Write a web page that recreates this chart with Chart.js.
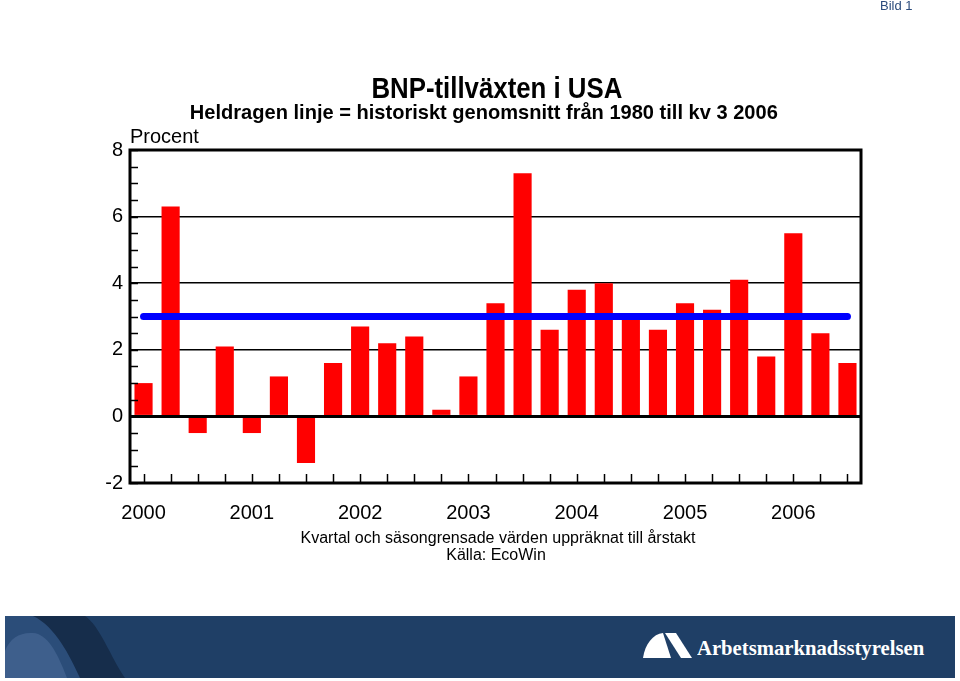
<!DOCTYPE html>
<html lang="sv">
<head>
<meta charset="utf-8">
<title>BNP-tillväxten i USA</title>
<script src="https://cdn.jsdelivr.net/npm/chart.js@4.4.1/dist/chart.umd.min.js"></script>
<style>
  body { margin: 0; background: #fff; font-family: "Liberation Sans", Arial, sans-serif; }
  .page { position: relative; width: 960px; height: 681px; overflow: hidden; }
  .page canvas { position: absolute; left: 0; top: 0; }
  .txt { position: absolute; left: 0; width: 960px; text-align: center; line-height: 1; white-space: nowrap; color: #000; }
  .txt span { display: inline-block; }
  .title { font-size: 30px; font-weight: bold; top: 73px; left: 17px; }
  .title span { transform: scaleX(0.86); }
  .subtitle { font-size: 21px; font-weight: bold; top: 101px; left: 4px; }
  .subtitle span { transform: scaleX(0.955); }
  .procent { position: absolute; left: 130px; top: 126px; font-size: 20px; line-height: 1; }
  .note { font-size: 16px; }
  .bild { position: absolute; left: 880px; top: -1px; font-size: 13px; line-height: 1; color: #2b4b7c; }
  .banner { position: absolute; left: 5px; top: 616px; width: 950px; height: 62px; background: #1f3f66; overflow: hidden; }
  .banner svg { position: absolute; left: 0; top: 0; }
  .logo-text { position: absolute; left: 697px; top: 638px; font-family: "Liberation Serif", "DejaVu Serif", serif; font-weight: bold; font-size: 21px; line-height: 1; color: #fff; }
  .logo-text span { display: inline-block; transform: scaleX(0.985); transform-origin: left center; }
</style>
</head>
<body>
<div class="page">
  <canvas id="bnp-chart" width="960" height="600"></canvas>
  <div class="bild">Bild 1</div>
  <div class="txt title"><span>BNP-tillväxten i USA</span></div>
  <div class="txt subtitle"><span>Heldragen linje = historiskt genomsnitt från 1980 till kv 3 2006</span></div>
  <div class="procent">Procent</div>
  <div class="txt note" style="top: 530px; left: 18px;">Kvartal och säsongrensade värden uppräknat till årstakt</div>
  <div class="txt note" style="top: 547px; left: 16px;">Källa: EcoWin</div>
  <div class="banner">
    <svg width="950" height="62" viewBox="0 0 950 62">
      <path d="M0,0 L30,0 C45,0 55,20 65,40 L80,62 L0,62 Z" fill="#2b4d79" />
      <path d="M28,0 L80,0 C95,10 105,40 120,62 L75,62 C65,40 50,10 28,0 Z" fill="#162d4b" />
      <path d="M0,62 L0,35 C5,22 15,16 28,17 C42,18 52,35 62,62 Z" fill="#3e5f8c" />
      <path d="M638,42 C640,28 648,18 658,17 L666,42 Z" fill="#fff" />
      <path d="M660,17 L671,17 L687,42 L676,42 Z" fill="#fff" />
    </svg>
  </div>
  <div class="logo-text"><span>Arbetsmarknadsstyrelsen</span></div>
</div>
<script>
// Data
const categories = [
  "2000 K1", "2000 K2", "2000 K3", "2000 K4",
  "2001 K1", "2001 K2", "2001 K3", "2001 K4",
  "2002 K1", "2002 K2", "2002 K3", "2002 K4",
  "2003 K1", "2003 K2", "2003 K3", "2003 K4",
  "2004 K1", "2004 K2", "2004 K3", "2004 K4",
  "2005 K1", "2005 K2", "2005 K3", "2005 K4",
  "2006 K1", "2006 K2", "2006 K3",
];
const bnpTillvaxt = [
  1.0, 6.3, -0.5, 2.1,
  -0.5, 1.2, -1.4, 1.6,
  2.7, 2.2, 2.4, 0.2,
  1.2, 3.4, 7.3, 2.6,
  3.8, 4.0, 2.9, 2.6,
  3.4, 3.2, 4.1, 1.8,
  5.5, 2.5, 1.6,
];
const historisktSnitt = [
  3.0, 3.0, 3.0, 3.0, 3.0, 3.0, 3.0, 3.0, 3.0,
  3.0, 3.0, 3.0, 3.0, 3.0, 3.0, 3.0, 3.0, 3.0,
  3.0, 3.0, 3.0, 3.0, 3.0, 3.0, 3.0, 3.0, 3.0,
];
const yearLabels = ["2000", "2001", "2002", "2003", "2004", "2005", "2006"];
const yMin = -2;
const yMax = 8;
// End Data

// Ram, nollinje och små streck
const framePlugin = {
  id: "frame",
  afterDatasetsDraw: (chart) => {
    const { ctx, chartArea, scales } = chart;
    const { left, right, top, bottom } = chartArea;
    ctx.save();
    ctx.strokeStyle = "#000";

    // nollinje
    const zeroY = scales.y.getPixelForValue(0);
    ctx.lineWidth = 3;
    ctx.beginPath();
    ctx.moveTo(left, zeroY);
    ctx.lineTo(right, zeroY);
    ctx.stroke();

    // små streck vänster
    ctx.lineWidth = 1.5;
    for (let v = yMin; v <= yMax; v += 0.5) {
      const y = Math.round(scales.y.getPixelForValue(v)) + 0.5;
      ctx.beginPath();
      ctx.moveTo(left, y);
      ctx.lineTo(left + 8, y);
      ctx.stroke();
    }

    // streck nedtill
    categories.forEach((c, i) => {
      const x = Math.round(scales.x.getPixelForValue(i)) + 0.5;
      ctx.beginPath();
      ctx.moveTo(x, bottom);
      ctx.lineTo(x, bottom - 9);
      ctx.stroke();
    });

    // ram
    ctx.lineWidth = 3;
    ctx.strokeRect(left, top, right - left, bottom - top);
    ctx.restore();
  },
};

const chartElement = document.querySelector("#bnp-chart");
if (chartElement) {
  new Chart(chartElement, {
    data: {
      labels: categories,
      datasets: [
        {
          type: "line",
          label: "Historiskt genomsnitt",
          data: historisktSnitt,
          borderColor: "#0000ff",
          borderWidth: 7,
          borderCapStyle: "round",
          pointRadius: 0,
          order: 0,
        },
        {
          type: "bar",
          label: "BNP-tillväxt",
          data: bnpTillvaxt,
          backgroundColor: "#ff0000",
          borderWidth: 0,
          categoryPercentage: 1,
          barPercentage: 0.67,
          order: 1,
        },
      ],
    },
    options: {
      responsive: false,
      devicePixelRatio: 1,
      animation: false,
      layout: {
        padding: { top: 150, right: 99, bottom: 0, left: 0 },
      },
      plugins: {
        legend: { display: false },
        tooltip: { enabled: false },
      },
      scales: {
        x: {
          offset: true,
          grid: { display: false, drawTicks: false },
          border: { display: false },
          ticks: {
            autoSkip: false,
            maxRotation: 0,
            padding: 18,
            color: "#000",
            font: { family: "Liberation Sans", size: 20 },
            callback: (value, index) => (index % 4 === 0 ? yearLabels[index / 4] : ""),
          },
          afterFit: (scale) => {
            scale.height = 117;
          },
        },
        y: {
          min: yMin,
          max: yMax,
          grid: {
            drawTicks: false,
            color: (ctx) => (ctx.tick.value === yMin || ctx.tick.value === yMax ? "rgba(0,0,0,0)" : "#000"),
            lineWidth: (ctx) => (ctx.tick.value === 0 ? 3 : 1.5),
          },
          border: { display: false },
          ticks: {
            stepSize: 2,
            padding: 7,
            color: "#000",
            font: { family: "Liberation Sans", size: 20 },
          },
          afterFit: (scale) => {
            scale.width = 130;
          },
        },
      },
    },
    plugins: [framePlugin],
  });
}
</script>
</body>
</html>
